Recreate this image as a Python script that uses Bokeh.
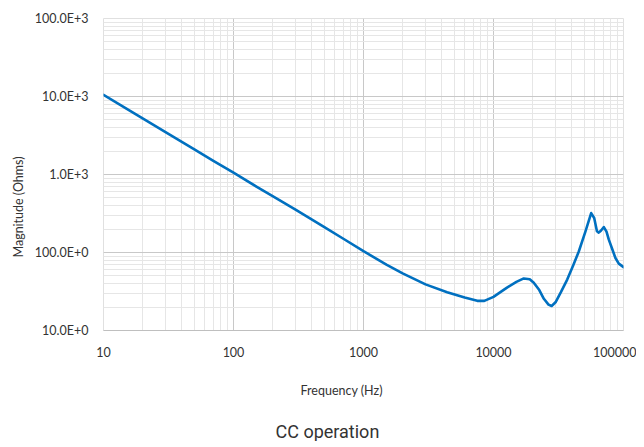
from bokeh.plotting import figure
from bokeh.models import FixedTicker, Title, Range1d
from bokeh.embed import file_html
from bokeh.resources import INLINE

# Data
freq_hz = [10, 15, 20, 30, 50, 70, 100, 150, 200, 300, 500, 700, 1000, 1500, 2000,
           3000, 4400, 6000, 7500, 8500, 10000, 11300, 12700, 15000, 17100, 19000,
           20400, 22500, 24400, 26500, 28000, 30000, 33000, 36900, 41000, 45300,
           51000, 56400, 59500, 62500, 64500, 67000, 70600, 74000, 77100, 82000,
           86700, 92000, 100000]
magnitude_ohms = [10500, 7000, 5250, 3500, 2100, 1500, 1055, 700, 530, 355, 212, 150,
                  104, 70, 54, 39, 31, 26.5, 24, 24, 27, 31, 35.5, 42, 46.5, 45.5,
                  41, 33, 25.5, 21.5, 20.6, 23, 31, 45, 68, 103, 187, 320, 277, 187,
                  180, 190, 212, 185, 146, 110, 85, 72, 65]

x_ticks = [10, 100, 1000, 10000, 100000]
x_tick_labels = ["10", "100", "1000", "10000", "100000"]
y_ticks = [10, 100, 1000, 10000, 100000]
y_tick_labels = ["10.0E+0", "100.0E+0", "1.0E+3", "10.0E+3", "100.0E+3"]

FONT = "Lato"
TXT = "#333333"
MAJOR = "#c8c8c8"
MINOR = "#e6e6e6"

p = figure(width=636, height=441, x_axis_type="log", y_axis_type="log",
           x_range=Range1d(10, 100000), y_range=Range1d(10, 100000),
           output_backend="svg", toolbar_location=None, title=None,
           min_border_left=103, min_border_right=13, min_border_top=18,
           min_border_bottom=110)

p.line(freq_hz, magnitude_ohms, line_color="#0070C0", line_width=2.6,
       line_join="round", line_cap="round")

minor = [m * d for d in [10, 100, 1000, 10000] for m in range(2, 10)]
p.xaxis.ticker = FixedTicker(ticks=x_ticks, minor_ticks=minor)
p.yaxis.ticker = FixedTicker(ticks=y_ticks, minor_ticks=minor)
p.xaxis.major_label_overrides = dict(zip(x_ticks, x_tick_labels))
p.yaxis.major_label_overrides = dict(zip(y_ticks, y_tick_labels))

for ax in (p.xaxis[0], p.yaxis[0]):
    ax.major_tick_out = 0
    ax.major_tick_in = 0
    ax.minor_tick_out = 0
    ax.minor_tick_in = 0
    ax.major_label_text_font = FONT
    ax.major_label_text_font_size = "12.5px"
    ax.major_label_text_color = TXT

p.xaxis.axis_line_color = "#bfbfbf"
p.yaxis.axis_line_color = None
p.xaxis.major_label_standoff = 16
p.yaxis.major_label_standoff = 15

p.xgrid.grid_line_color = MAJOR
p.ygrid.grid_line_color = MAJOR
p.xgrid.minor_grid_line_color = MINOR
p.ygrid.minor_grid_line_color = MINOR
p.outline_line_color = "#e0e0e0"

xt = Title(text="Frequency (Hz)", align="left", offset=197, standoff=42,
           text_font=FONT, text_font_size="12.5px", text_font_style="normal",
           text_color=TXT)
p.add_layout(xt, "below")
ct = Title(text="CC operation", align="left", offset=172, standoff=0,
           text_font="Roboto", text_font_size="18px", text_font_style="normal",
           text_color=TXT)
p.add_layout(ct, "below")
yt = Title(text="Magnitude (Ohms)", align="left", offset=73, standoff=11,
           text_font=FONT, text_font_size="12.5px", text_font_style="normal",
           text_color=TXT)
p.add_layout(yt, "left")

open("out.html", "w").write(file_html(p, INLINE))
